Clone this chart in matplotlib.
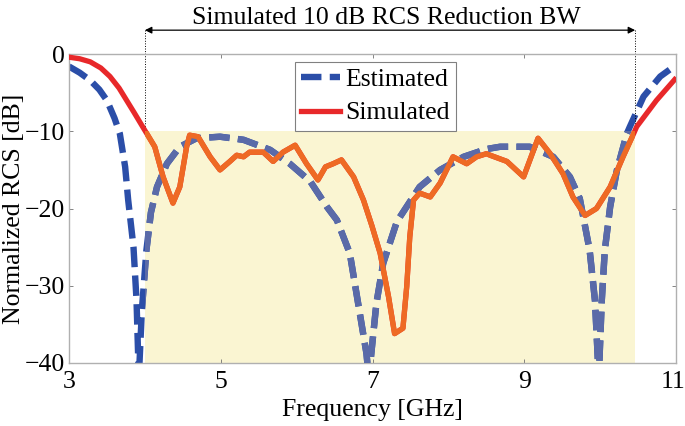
import numpy as np
import matplotlib
matplotlib.use('Agg')
import matplotlib.pyplot as plt
from matplotlib.patches import Rectangle
import matplotlib.transforms as mtransforms

plt.rcParams['font.family'] = ['Liberation Serif', 'DejaVu Serif']

# Estimated RCS (blue dashed)
est_f = [3.0, 3.14, 3.28, 3.40, 3.50, 3.60, 3.67, 3.74, 3.78, 3.85, 3.89, 3.92,
         3.96, 4.02, 4.08, 4.16, 4.29, 4.46, 4.68, 4.99, 5.30, 5.65, 5.91, 6.18,
         6.40, 6.53, 6.70, 6.81, 6.92, 6.95, 7.05, 7.14, 7.32, 7.62, 7.89, 8.20,
         8.50, 8.68, 9.07, 9.38, 9.60, 9.73, 9.86, 9.93, 9.98, 10.02, 10.06,
         10.13, 10.22, 10.35, 10.39, 10.57, 10.79, 11.0]
est_db = [-1.6, -2.4, -3.4, -4.6, -6.0, -8.3, -10.3, -14.6, -18.9, -25.0, -31.9, -42,
          -33.2, -25.4, -20.5, -17.2, -14.2, -12.0, -10.9, -10.7, -11.1, -12.4, -14.2, -16.5,
          -19.8, -21.5, -25.8, -32.3, -38.8, -42, -32.3, -27.1, -21.7, -17.2, -15.0, -13.3,
          -12.3, -12.0, -12.0, -13.3, -15.9, -18.7, -25.4, -31.9, -42, -31.9, -25.4,
          -19.8, -15.0, -10.3, -9.4, -5.5, -2.9, -1.4]

# Simulated RCS (red solid)
sim_f = [3.0, 3.14, 3.28, 3.42, 3.54, 3.66, 3.76, 3.86, 3.97, 4.13, 4.24, 4.37,
         4.46, 4.55, 4.59, 4.70, 4.86, 4.99, 5.12, 5.21, 5.30, 5.38, 5.56, 5.69,
         5.82, 5.98, 6.13, 6.28, 6.38, 6.48, 6.59, 6.75, 6.88, 6.99, 7.10, 7.21,
         7.29, 7.40, 7.45, 7.49, 7.54, 7.62, 7.76, 7.89, 8.06, 8.24, 8.37, 8.50,
         8.55, 8.77, 8.99, 9.18, 9.34, 9.51, 9.64, 9.80, 9.95, 10.13, 10.30, 10.44,
         10.48, 10.74, 10.98]
sim_db = [-0.4, -0.6, -1.0, -1.8, -2.9, -4.4, -6.0, -7.6, -9.4, -12.0, -15.9, -19.3,
          -17.2, -12.0, -10.5, -10.7, -13.3, -15.0, -13.9, -13.1, -13.3, -12.7, -12.7, -13.9,
          -12.7, -11.8, -14.2, -16.3, -14.6, -14.2, -13.7, -15.9, -18.9, -22.2, -25.8, -31.4,
          -36.2, -35.5, -30.1, -23.7, -18.9, -18.0, -18.5, -16.7, -13.3, -14.2, -13.3, -12.9,
          -13.1, -13.9, -15.9, -10.9, -12.9, -15.5, -18.5, -20.9, -20.0, -17.2, -13.3, -10.3,
          -9.4, -6.0, -3.3]

bw_lo, bw_hi = 4.0, 10.46
xticks = [3, 5, 7, 9, 11]
yticks = [-40, -30, -20, -10, 0]
fs = 18.5

fig = plt.figure(figsize=(6.85, 4.26), dpi=100)
ax = fig.add_axes([0.1007, 0.148, 0.8864, 0.725])

band = Rectangle((bw_lo, -40), bw_hi - bw_lo, 30, facecolor='#FAF5D2',
                 edgecolor='none', zorder=1)
ax.add_patch(band)

dash = (3.2, 1.3)
l1, = ax.plot(est_f, est_db, color='#2B4EA8', lw=4.6, dashes=dash, zorder=2,
              label='Estimated', dash_capstyle='butt')
l2, = ax.plot(sim_f, sim_db, color='#E8282A', lw=3.8, zorder=3, label='Simulated')

# the same curves inside the band take muted colours
l1b, = ax.plot(est_f, est_db, color='#5A6AA8', lw=4.6, dashes=dash, zorder=4,
               dash_capstyle='butt')
l1b.set_clip_path(band)
l2b, = ax.plot(sim_f, sim_db, color='#EE6A24', lw=3.8, zorder=5)
l2b.set_clip_path(band)

ax.set_xlim(3, 11)
ax.set_ylim(-40, 0)
ax.set_xticks(xticks)
ax.set_yticks(yticks)
ax.tick_params(direction='in', length=3, width=0.6, color='#707070',
               top=True, right=True, labelsize=fs)
ax.tick_params(axis='x', pad=6)
ax.tick_params(axis='y', pad=3)
for s in ax.spines.values():
    s.set_color('#B0B0B0')
    s.set_linewidth(1.0)

# keep "11" inside the figure
lab = ax.get_xticklabels()[-1]
lab.set_transform(lab.get_transform() + mtransforms.ScaledTranslation(-3 / 100, 0, fig.dpi_scale_trans))

ax.set_xlabel('Frequency [GHz]', fontsize=fs, labelpad=4)
ax.set_ylabel('Normalized RCS [dB]', fontsize=fs, labelpad=0)

# bandwidth arrow and marker lines
ya = 3.1
ax.annotate('', xy=(bw_lo, ya), xytext=(bw_hi, ya), annotation_clip=False,
            arrowprops=dict(arrowstyle='<|-|>', color='black', lw=0.9,
                            mutation_scale=10, shrinkA=0, shrinkB=0))
ax.plot([bw_lo, bw_lo], [ya, -10], color='black', lw=0.7, ls=':', clip_on=False)
ax.plot([bw_hi, bw_hi], [ya, -10], color='black', lw=0.7, ls=':', clip_on=False)
ax.text(7.18, 4.7, 'Simulated 10 dB RCS Reduction BW', ha='center', va='center',
        fontsize=fs)

leg = ax.legend(handles=[l1, l2], loc='upper left', bbox_to_anchor=(0.372, 0.975),
                fontsize=fs, frameon=True, fancybox=False, framealpha=1,
                edgecolor='#808080', borderpad=0.25, handlelength=1.5,
                handletextpad=0.2, labelspacing=0.4, borderaxespad=0)
leg.get_frame().set_linewidth(0.8)
leg.set_zorder(10)

fig.savefig('out.png', dpi=100)
